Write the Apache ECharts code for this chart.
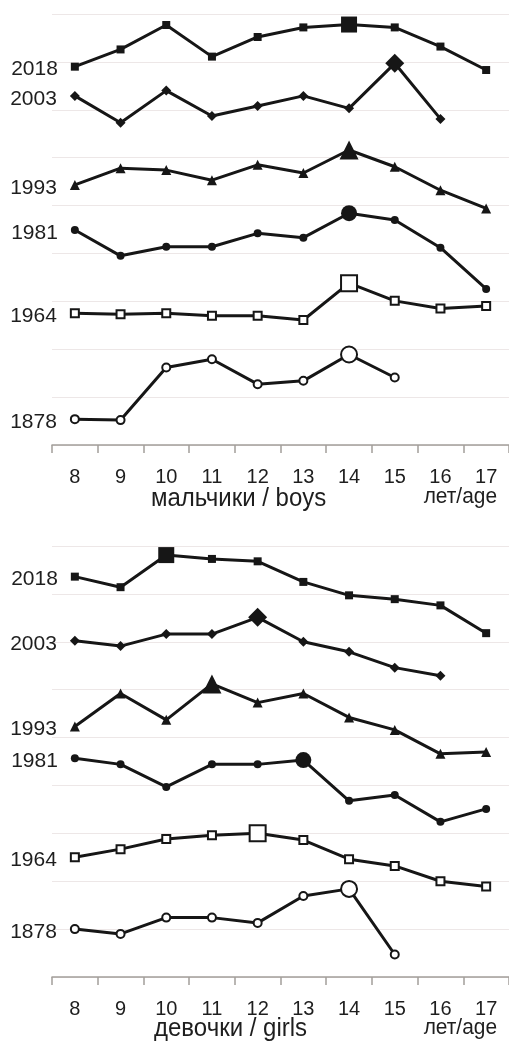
<!DOCTYPE html>
<html>
<head>
<meta charset="utf-8">
<script src="https://cdn.jsdelivr.net/npm/echarts@6/dist/echarts.min.js"></script>
<style>
html,body{margin:0;padding:0;background:#fff;}
#chart{width:509px;height:1044px;}
</style>
</head>
<body>
<div id="chart"></div>
<script>
// Ages (x-axis categories)
const ages = ['8','9','10','11','12','13','14','15','16','17'];
// Survey years (series names), top to bottom
const years = ['2018','2003','1993','1981','1964','1878'];

// Boys: vertically offset curves (grid units, gridlines at integers)
const boys2018 = [7.90, 8.26, 8.77, 8.11, 8.52, 8.72, 8.78, 8.72, 8.32, 7.83];
const boys2003 = [7.29, 6.73, 7.40, 6.87, 7.08, 7.29, 7.03, 7.97, 6.81, null];
const boys1993 = [5.43, 5.78, 5.74, 5.53, 5.85, 5.68, 6.16, 5.81, 5.32, 4.94];
const boys1981 = [4.49, 3.95, 4.14, 4.14, 4.42, 4.33, 4.84, 4.70, 4.12, 3.26];
const boys1964 = [2.75, 2.73, 2.75, 2.70, 2.70, 2.61, 3.38, 3.01, 2.85, 2.90];
const boys1878 = [0.54, 0.52, 1.62, 1.79, 1.27, 1.34, 1.89, 1.41, null, null];
// Peak age (big marker) per series, boys
const boysPeak = ['14','15','14','14','14','14'];

// Girls
const girls2018 = [8.36, 8.14, 8.81, 8.73, 8.68, 8.25, 7.97, 7.89, 7.76, 7.18];
const girls2003 = [7.02, 6.91, 7.16, 7.16, 7.51, 7.00, 6.79, 6.46, 6.29, null];
const girls1993 = [5.23, 5.92, 5.37, 6.12, 5.73, 5.92, 5.42, 5.16, 4.66, 4.70];
const girls1981 = [4.57, 4.44, 3.97, 4.44, 4.44, 4.53, 3.68, 3.80, 3.24, 3.51];
const girls1964 = [2.50, 2.67, 2.88, 2.96, 3.00, 2.86, 2.46, 2.32, 2.00, 1.89];
const girls1878 = [1.00, 0.90, 1.24, 1.24, 1.13, 1.69, 1.84, 0.47, null, null];
const girlsPeak = ['10','12','11','13','12','14'];

// Axis titles
const boysTitle = 'мальчики / boys';
const girlsTitle = 'девочки / girls';
const unitTitle = 'лет/age';

const boysData = [boys2018, boys2003, boys1993, boys1981, boys1964, boys1878];
const girlsData = [girls2018, girls2003, girls1993, girls1981, girls1964, girls1878];

// marker styles per year
const markerSymbols = ['rect','diamond','triangle','circle','rect','circle'];
const markerOpen = [false,false,false,false,true,true];

const INK = '#161616';
const TXT = '#1e1e1e';
const FONT = 'Liberation Sans, Arial, sans-serif';

function makeSeries(dataSets, peaks, gridIdx) {
  return dataSets.map((vals, s) => {
    const peakIdx = ages.indexOf(peaks[s]);
    const sym = markerSymbols[s];
    const small = sym === 'triangle' ? 10 : (sym === 'diamond' ? 10 : 8);
    const big = sym === 'triangle' ? 19 : (sym === 'diamond' ? 19 : 16);
    return {
      type: 'line',
      name: years[s],
      xAxisIndex: gridIdx,
      yAxisIndex: gridIdx,
      symbol: sym,
      showAllSymbol: true,
      connectNulls: false,
      animation: false,
      lineStyle: {color: INK, width: 3},
      itemStyle: markerOpen[s]
        ? {color: '#ffffff', borderColor: INK, borderWidth: 2}
        : {color: INK, borderColor: INK, borderWidth: 0},
      z: 2,
      data: vals.map((v, i) => ({
        value: v,
        symbolSize: i === peakIdx ? big : small,
        label: i === 0 ? {
          show: true,
          position: 'left',
          distance: 13,
          offset: [0, 3],
          formatter: years[s],
          fontFamily: FONT,
          fontSize: 21,
          color: TXT
        } : {show: false}
      }))
    };
  });
}

function xAxisCfg(gridIdx) {
  return {
    type: 'category',
    gridIndex: gridIdx,
    data: ages,
    boundaryGap: true,
    axisLine: {show: true, lineStyle: {color: '#a39e9a', width: 1.5}},
    axisTick: {show: true, interval: 0, length: 8, lineStyle: {color: '#a39e9a', width: 1.5}},
    axisLabel: {show: true, interval: 0, margin: 22, fontFamily: FONT, fontSize: 20, color: TXT},
    splitLine: {show: false}
  };
}
function yAxisCfg(gridIdx) {
  return {
    type: 'value',
    gridIndex: gridIdx,
    min: 0, max: 9, interval: 1,
    axisLine: {show: false},
    axisTick: {show: false},
    axisLabel: {show: false},
    splitLine: {show: true, lineStyle: {color: '#ede7e7', width: 1}}
  };
}

function titleText(str, x, baseline, size, align, sx) {
  return {
    type: 'text', x: x, y: baseline - 0.35 * size, scaleX: sx,
    style: {text: str, font: size + 'px ' + FONT, fill: TXT, align: align, verticalAlign: 'middle'}
  };
}

const chart = echarts.init(document.getElementById('chart'), null, {renderer: 'canvas'});
chart.setOption({
  backgroundColor: '#ffffff',
  animation: false,
  grid: [
    {left: 52, top: 14, width: 457, height: 431},
    {left: 52, top: 546, width: 457, height: 431}
  ],
  xAxis: [xAxisCfg(0), xAxisCfg(1)],
  yAxis: [yAxisCfg(0), yAxisCfg(1)],
  graphic: [
    titleText(boysTitle, 151, 507.5, 25, 'left', 0.96),
    titleText(unitTitle, 497, 505, 22, 'right', 0.95),
    titleText(girlsTitle, 154, 1038, 25, 'left', 0.96),
    titleText(unitTitle, 497, 1036, 22, 'right', 0.95)
  ],
  series: makeSeries(boysData, boysPeak, 0).concat(makeSeries(girlsData, girlsPeak, 1))
});
</script>
</body>
</html>
